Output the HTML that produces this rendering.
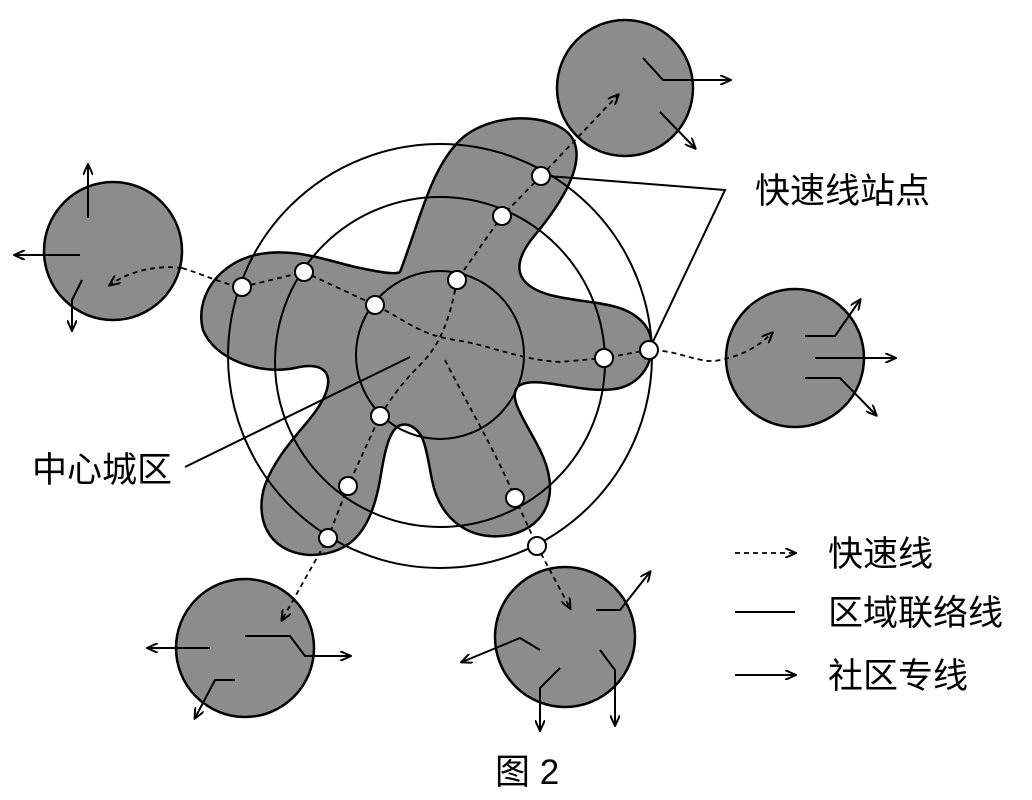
<!DOCTYPE html>
<html><head><meta charset="utf-8"><style>
html,body{margin:0;padding:0;background:#fff;}
svg{display:block;}
text{font-family:"Liberation Sans","Noto Sans CJK SC",sans-serif;font-size:35px;fill:#000;}
</style></head><body>
<svg width="1032" height="800" viewBox="0 0 1032 800" xmlns="http://www.w3.org/2000/svg">
<defs>
<marker id="ah" markerWidth="12" markerHeight="10" refX="10" refY="5" orient="auto" markerUnits="userSpaceOnUse">
<path d="M0,0 L11,5 L0,10" fill="none" stroke="#000" stroke-width="2"/>
</marker>
</defs>
<g fill="#8c8c8c" stroke="#000" stroke-width="2.5">
<circle cx="625" cy="88" r="68"/>
<circle cx="113" cy="251" r="69"/>
<circle cx="795" cy="358" r="69"/>
<circle cx="245" cy="648" r="69"/>
<circle cx="565" cy="637" r="70"/>
<path d="M400,272 C420,220 430,170 460,140 C490,112 550,112 570,135 C590,160 560,205 535,235 C510,265 515,285 550,295 C590,305 625,300 645,325 C660,345 650,380 620,388 C585,396 540,375 520,385 C505,395 525,420 540,450 C560,490 550,525 510,535 C470,542 440,520 432,480 C426,450 425,430 408,425 C390,420 385,450 380,480 C372,525 355,555 310,555 C265,552 255,515 265,485 C280,445 315,420 325,395 C335,370 320,362 295,368 C260,375 215,360 203,330 C195,300 215,265 255,255 C295,246 330,262 360,268 C380,272 395,275 400,272 Z"/>
</g>
<g fill="none" stroke="#000" stroke-width="2">
<circle cx="440" cy="356" r="212"/>
<circle cx="440" cy="362" r="165"/>
<circle cx="440" cy="355" r="84"/>
</g>
<g fill="none" stroke="#000" stroke-width="1.8" stroke-dasharray="5,4">
<path d="M541,176 L618,95" marker-end="url(#ah)"/>
<path d="M541,176 L502,216 L457,280 C450,320 440,345 420,365 C400,385 390,400 380,416 L348,486 L328,538 L282,620" marker-end="url(#ah)"/>
<path d="M182,268 C160,265 130,270 110,285" marker-end="url(#ah)"/>
<path d="M182,268 C205,275 225,285 242,287 L304,272 L375,305 C405,320 420,335 455,340 C490,345 520,360 560,362 L604,358 L649,350 C680,350 700,365 720,360 C745,355 760,345 772,333" marker-end="url(#ah)"/>
<path d="M445,360 C465,400 495,450 515,498 L537,546 L570,608" marker-end="url(#ah)"/>
<path d="M735,553 L795,553" marker-end="url(#ah)"/>
</g>
<g fill="none" stroke="#000" stroke-width="2">
<polyline points="643,58 663,80 730,80" marker-end="url(#ah)"/>
<polyline points="660,112 695,148" marker-end="url(#ah)"/>
<polyline points="88,218 88,165" marker-end="url(#ah)"/>
<polyline points="80,255 15,255" marker-end="url(#ah)"/>
<polyline points="82,280 72,300 72,330" marker-end="url(#ah)"/>
<polyline points="805,336 835,336 860,300" marker-end="url(#ah)"/>
<polyline points="815,358 895,358" marker-end="url(#ah)"/>
<polyline points="805,378 840,378 876,415" marker-end="url(#ah)"/>
<polyline points="210,648 148,648" marker-end="url(#ah)"/>
<polyline points="245,636 290,636 305,656 350,656" marker-end="url(#ah)"/>
<polyline points="235,680 215,680 195,718" marker-end="url(#ah)"/>
<polyline points="596,610 620,610 650,572" marker-end="url(#ah)"/>
<polyline points="540,650 520,638 462,662" marker-end="url(#ah)"/>
<polyline points="560,668 540,688 540,730" marker-end="url(#ah)"/>
<polyline points="600,650 615,670 615,725" marker-end="url(#ah)"/>
<polyline points="548,176 725,190 649,350"/>
<polyline points="185,467 410,357"/>
<line x1="735" y1="612" x2="795" y2="612"/>
<polyline points="735,675 795,675" marker-end="url(#ah)"/>
</g>
<g fill="#fff" stroke="#000" stroke-width="2">
<circle cx="541" cy="176" r="9"/><circle cx="502" cy="216" r="9"/><circle cx="457" cy="280" r="9"/>
<circle cx="375" cy="305" r="9"/><circle cx="304" cy="272" r="9"/><circle cx="242" cy="287" r="9"/>
<circle cx="604" cy="358" r="9"/><circle cx="649" cy="350" r="9"/><circle cx="380" cy="416" r="9"/>
<circle cx="348" cy="486" r="9"/><circle cx="328" cy="538" r="9"/><circle cx="515" cy="498" r="9"/>
<circle cx="537" cy="546" r="9"/>
</g>
<text x="755" y="203">快速线站点</text>
<text x="32" y="482">中心城区</text>
<text x="828" y="566">快速线</text>
<text x="828" y="625">区域联络线</text>
<text x="828" y="688">社区专线</text>
<text x="495" y="784">图 2</text>
</svg>
</body></html>
